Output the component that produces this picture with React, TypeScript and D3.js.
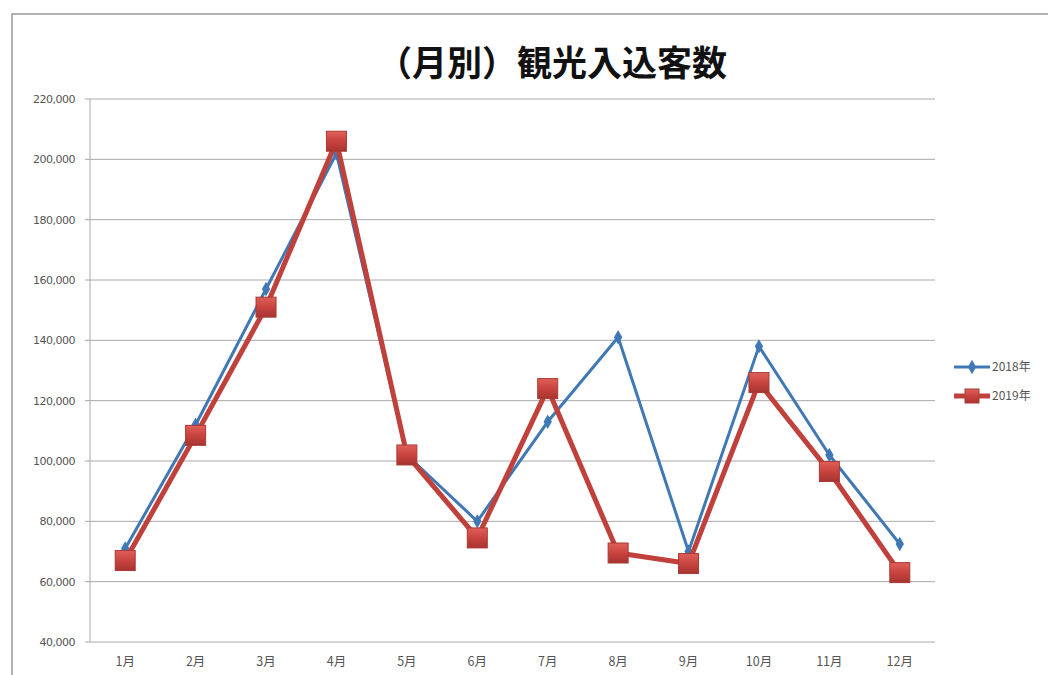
import React from "react";
import * as d3 from "d3";

const months = ["1月", "2月", "3月", "4月", "5月", "6月", "7月", "8月", "9月", "10月", "11月", "12月"];
const visitors2018 = [71000, 112000, 157000, 202000, 102000, 80000, 113000, 141000, 70000, 138000, 102000, 72500];
const visitors2019 = [67000, 108500, 151000, 206000, 102000, 74500, 124000, 69500, 66000, 126000, 96500, 63000];
const yTicks = [40000, 60000, 80000, 100000, 120000, 140000, 160000, 180000, 200000, 220000];
const seriesNames = ["2018年", "2019年"];

const W = 1048;
const H = 675;
const plot = { left: 90, right: 935, top: 99, bottom: 642 };

export default function App() {
  const x = d3.scaleBand<string>().domain(months).range([plot.left, plot.right]);
  const y = d3.scaleLinear().domain([40000, 220000]).range([plot.bottom, plot.top]);
  const cx = (m: string) => (x(m) as number) + x.bandwidth() / 2;
  const line = d3
    .line<number>()
    .x((_, i) => cx(months[i]))
    .y((v) => y(v));
  const fmt = d3.format(",");
  const blue = "#3f78b5";
  const red = "#c0403c";
  const diamond = d3.symbol().type(d3.symbolDiamond).size(60)();

  return (
    <svg
      width={W}
      height={H}
      style={{ position: "absolute", left: 0, top: 0, background: "#fff" }}
      fontFamily="'Noto Sans CJK JP', 'Noto Sans', sans-serif"
    >
      <defs>
        <linearGradient id="sq" x1="0" y1="0" x2="0" y2="1">
          <stop offset="0" stopColor="#e0605a" />
          <stop offset="0.5" stopColor="#c9433f" />
          <stop offset="1" stopColor="#a63431" />
        </linearGradient>
      </defs>
      {/* chart frame */}
      <path d={`M12,${H} V14 H${W}`} fill="none" stroke="#9a9a9a" strokeWidth={1.5} />
      <text
        x={552}
        y={76}
        textAnchor="middle"
        fontSize={35}
        fontWeight="bold"
        fill="#111"
      >
        （月別）観光入込客数
      </text>

      {/* gridlines and value axis */}
      {yTicks.map((t) => (
        <g key={t}>
          <line x1={plot.left - 5} x2={plot.right} y1={y(t)} y2={y(t)} stroke="#a8a8a8" strokeWidth={1} />
          <text x={75} y={y(t) + 4} textAnchor="end" fontSize={11} fill="#555" fontFamily="'DejaVu Sans', sans-serif" letterSpacing={-0.5}>
            {fmt(t)}
          </text>
        </g>
      ))}
      <line x1={plot.left} x2={plot.left} y1={plot.top} y2={plot.bottom} stroke="#a8a8a8" />

      {months.map((m) => (
        <text key={m} x={cx(m)} y={666} textAnchor="middle" fontSize={12.5} fill="#555">
          {m}
        </text>
      ))}

      {/* 2018 series */}
      <path d={line(visitors2018) ?? ""} fill="none" stroke={blue} strokeWidth={3} strokeLinejoin="round" />
      {visitors2018.map((v, i) => (
        <path key={i} d={diamond ?? ""} transform={`translate(${cx(months[i])},${y(v)})`} fill={blue} />
      ))}

      {/* 2019 series */}
      <path d={line(visitors2019) ?? ""} fill="none" stroke={red} strokeWidth={5} strokeLinejoin="round" />
      {visitors2019.map((v, i) => (
        <rect
          key={i}
          x={cx(months[i]) - 10}
          y={y(v) - 10}
          width={20}
          height={20}
          fill="url(#sq)"
          stroke="#a83a36"
          strokeWidth={1}
        />
      ))}

      {/* legend */}
      <g>
        <line x1={954} x2={990} y1={367} y2={367} stroke={blue} strokeWidth={3} />
        <path d={diamond ?? ""} transform="translate(972,367)" fill={blue} />
        <text x={992} y={371} fontSize={12} fill="#555">{seriesNames[0]}</text>
        <line x1={954} x2={990} y1={396} y2={396} stroke={red} strokeWidth={5} />
        <rect x={965} y={389} width={14} height={14} fill="url(#sq)" stroke="#a83a36" />
        <text x={992} y={400} fontSize={12} fill="#555">{seriesNames[1]}</text>
      </g>
    </svg>
  );
}
